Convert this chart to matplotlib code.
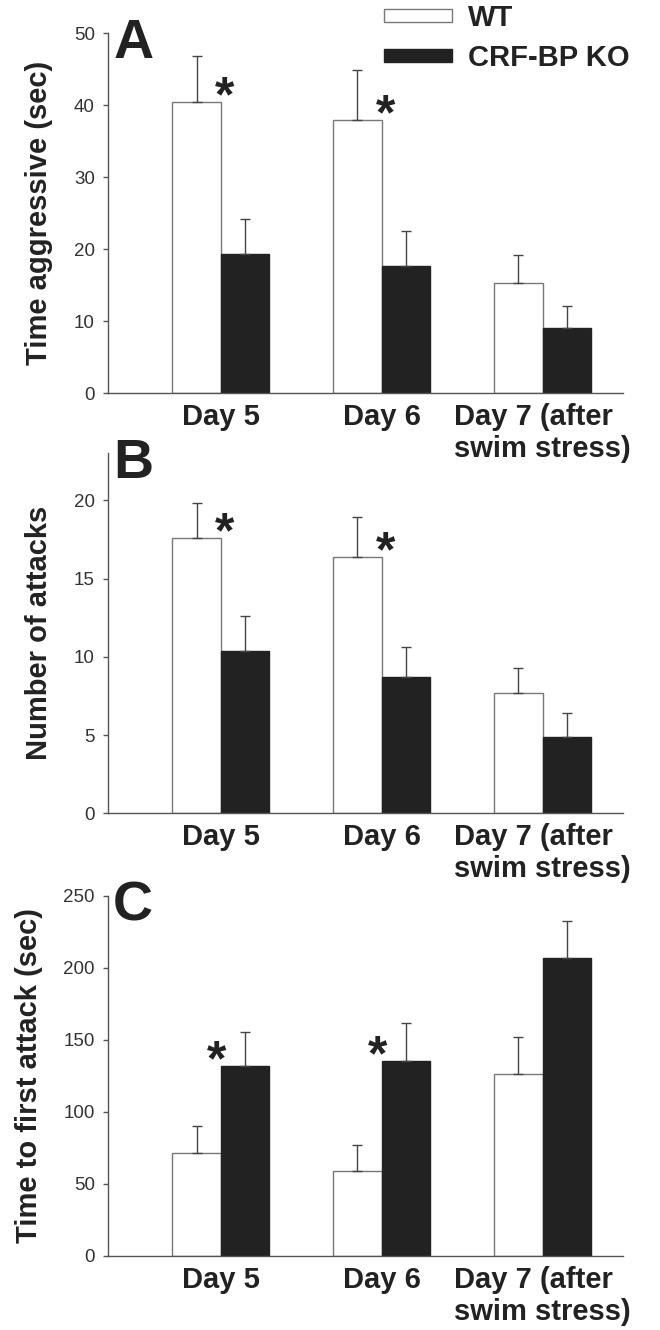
import matplotlib.pyplot as plt
import matplotlib.transforms as mtransforms
from matplotlib.patches import Patch
import numpy as np

plt.rcParams['font.family'] = ['Liberation Sans', 'DejaVu Sans']

days = ['Day 5', 'Day 6', 'Day 7 (after\nswim stress)']
groups = ['WT', 'CRF-BP KO']

# A: time aggressive (sec), mean and SEM
aggr_wt = [40.4, 37.9, 15.3]
aggr_wt_sem = [6.4, 6.9, 3.9]
aggr_ko = [19.3, 17.7, 9.0]
aggr_ko_sem = [4.9, 4.8, 3.1]
aggr_sig = [True, True, False]

# B: number of attacks
att_wt = [17.6, 16.4, 7.7]
att_wt_sem = [2.2, 2.5, 1.6]
att_ko = [10.4, 8.7, 4.9]
att_ko_sem = [2.2, 1.9, 1.5]
att_sig = [True, True, False]

# C: latency to first attack (sec)
lat_wt = [71.3, 59.0, 126.0]
lat_wt_sem = [18.7, 17.8, 26.0]
lat_ko = [132.0, 135.5, 206.6]
lat_ko_sem = [23.4, 26.0, 26.0]
lat_sig = [True, True, False]

WT_FACE = 'white'
WT_EDGE = '#777777'
KO_FACE = '#222222'
AXIS_COL = '#555555'
TEXT_COL = '#222222'

fig = plt.figure(figsize=(6.6, 13.3), dpi=100)
W, H = 660, 1330


def px_axes(left, top, right, bottom):
    return fig.add_axes([left / W, 1 - bottom / H, (right - left) / W, (bottom - top) / H])


def panel(ax, wt, wt_sem, ko, ko_sem, sig, star_over, ylim, yticks, ylabel, letter):
    ax.patch.set_visible(False)
    x = np.arange(len(days))
    w = 0.30
    ekw = dict(ecolor='#444444', elinewidth=1.0, capsize=3.6, capthick=1.0)
    ax.bar(x - w / 2, wt, w, yerr=[np.zeros(len(wt)), wt_sem], color=WT_FACE,
           edgecolor=WT_EDGE, linewidth=1.0, error_kw=ekw, zorder=2)
    ax.bar(x + w / 2, ko, w, yerr=[np.zeros(len(ko)), ko_sem], color=KO_FACE,
           edgecolor=KO_FACE, linewidth=1.0, error_kw=ekw, zorder=2)

    # significance stars sit beside the taller bar's error bar
    for i, s in enumerate(sig):
        if not s:
            continue
        if star_over == 'wt':
            xy, dx = (x[i], wt[i]), 3
        else:
            xy, dx = (x[i], ko[i]), -3
        ax.annotate('*', xy=xy, xytext=(dx, 2.5), textcoords='offset points',
                    ha='center', va='center', fontsize=36, fontweight='bold',
                    color=TEXT_COL)

    ax.set_xlim(-0.7, 2.5)
    ax.set_ylim(*ylim)
    ax.set_yticks(yticks)
    ax.set_xticks(x, days, fontsize=21, fontweight='bold', color=TEXT_COL)
    for lab in ax.get_xticklabels():
        lab.set_multialignment('left')
    last = ax.get_xticklabels()[-1]
    last.set_transform(last.get_transform() +
                       mtransforms.ScaledTranslation(0.21, 0, fig.dpi_scale_trans))

    ax.tick_params(axis='x', length=0, pad=7)
    ax.tick_params(axis='y', length=3.6, width=1.0, color=AXIS_COL, direction='out',
                   pad=5.8, labelsize=13.5, labelcolor='#333333')
    for side in ['top', 'right']:
        ax.spines[side].set_visible(False)
    for side in ['left', 'bottom']:
        ax.spines[side].set_color(AXIS_COL)
        ax.spines[side].set_linewidth(1.0)

    ax.set_ylabel(ylabel, fontsize=21, fontweight='bold', color=TEXT_COL, labelpad=15)
    ax.text(0.01, 0.93, letter, transform=ax.transAxes, ha='left', va='baseline',
            fontsize=40, fontweight='bold', color=TEXT_COL)


ax_a = px_axes(108, 33, 623, 393)
ax_b = px_axes(108, 453.3, 623, 813.3)
ax_c = px_axes(108, 895.7, 623, 1256)

panel(ax_a, aggr_wt, aggr_wt_sem, aggr_ko, aggr_ko_sem, aggr_sig, 'wt',
      (0, 50), [0, 10, 20, 30, 40, 50], 'Time aggressive (sec)', 'A')
panel(ax_b, att_wt, att_wt_sem, att_ko, att_ko_sem, att_sig, 'wt',
      (0, 23), [0, 5, 10, 15, 20], 'Number of attacks', 'B')
panel(ax_c, lat_wt, lat_wt_sem, lat_ko, lat_ko_sem, lat_sig, 'ko',
      (0, 250), [0, 50, 100, 150, 200, 250], 'Time to first attack (sec)', 'C')

handles = [Patch(facecolor=WT_FACE, edgecolor=WT_EDGE, linewidth=1.0),
           Patch(facecolor=KO_FACE, edgecolor=KO_FACE, linewidth=1.0)]
leg = fig.legend(handles, groups, loc='upper left', bbox_to_anchor=(384 / W, 1 - 4 / H),
                 frameon=False, borderpad=0, borderaxespad=0, handlelength=2.33,
                 handleheight=0.3, handletextpad=0.55, labelspacing=0.4,
                 prop=dict(family=['Liberation Sans', 'DejaVu Sans'], size=21, weight='bold'))
for t in leg.get_texts():
    t.set_color(TEXT_COL)

fig.savefig('out.png', dpi=100, facecolor='white')
